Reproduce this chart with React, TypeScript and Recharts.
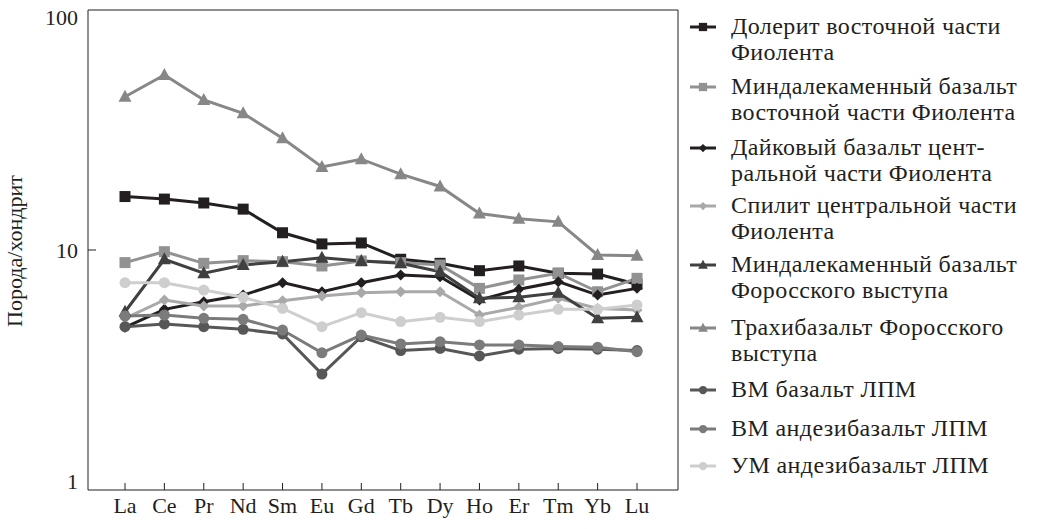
import React from 'react'
import { LineChart, Line, XAxis, YAxis } from 'recharts'

// REE elements on the x axis
const elements = ['La', 'Ce', 'Pr', 'Nd', 'Sm', 'Eu', 'Gd', 'Tb', 'Dy', 'Ho', 'Er', 'Tm', 'Yb', 'Lu']
const yTicks = [1, 10, 100]

// rock / chondrite ratios
const doleriteEast = [16.7, 16.3, 15.7, 14.8, 11.8, 10.6, 10.7, 9.15, 8.8, 8.2, 8.58, 8.0, 7.94, 7.2]
const amygBasaltEast = [8.86, 9.84, 8.8, 9.03, 8.94, 8.58, 9.0, 8.86, 8.66, 6.92, 7.5, 8.0, 6.7, 7.62]
const dikeBasalt = [4.76, 5.66, 6.09, 6.49, 7.31, 6.7, 7.31, 7.87, 7.74, 6.19, 6.86, 7.38, 6.49, 6.92]
const spilite = [5.19, 6.19, 5.84, 5.84, 6.15, 6.43, 6.64, 6.7, 6.7, 5.36, 5.77, 6.29, 5.71, 5.62]
const amygBasaltForos = [5.53, 9.15, 8.0, 8.66, 8.94, 9.29, 9.0, 8.8, 8.12, 6.29, 6.35, 6.64, 5.19, 5.24]
const trachybasalt = [43.5, 53.6, 42.2, 37.1, 29.2, 22.2, 23.9, 20.7, 18.4, 14.2, 13.5, 13.1, 9.53, 9.47]
const vmBasalt = [4.79, 4.92, 4.79, 4.67, 4.47, 3.04, 4.35, 3.81, 3.89, 3.62, 3.86, 3.89, 3.86, 3.81]
const vmAndesibasalt = [5.31, 5.36, 5.19, 5.14, 4.64, 3.73, 4.42, 4.06, 4.15, 4.02, 4.02, 3.96, 3.93, 3.77]
const umAndesibasalt = [7.31, 7.31, 6.81, 6.35, 5.71, 4.79, 5.48, 5.03, 5.24, 5.03, 5.36, 5.66, 5.66, 5.9]

type Shape = 'square' | 'diamond' | 'triangle' | 'circle'

const series: { key: string; lines: string[]; values: number[]; color: string; shape: Shape }[] = [
  { key: 's1', lines: ['Долерит восточной части', 'Фиолента'], values: doleriteEast, color: '#231f20', shape: 'square' },
  { key: 's2', lines: ['Миндалекаменный базальт', 'восточной части Фиолента'], values: amygBasaltEast, color: '#929292', shape: 'square' },
  { key: 's3', lines: ['Дайковый базальт цент-', 'ральной части Фиолента'], values: dikeBasalt, color: '#231f20', shape: 'diamond' },
  { key: 's4', lines: ['Спилит центральной части', 'Фиолента'], values: spilite, color: '#a9a9a9', shape: 'diamond' },
  { key: 's5', lines: ['Миндалекаменный базальт', 'Форосского выступа'], values: amygBasaltForos, color: '#404040', shape: 'triangle' },
  { key: 's6', lines: ['Трахибазальт Форосского', 'выступа'], values: trachybasalt, color: '#878787', shape: 'triangle' },
  { key: 's7', lines: ['ВМ базальт ЛПМ'], values: vmBasalt, color: '#575757', shape: 'circle' },
  { key: 's8', lines: ['ВМ андезибазальт ЛПМ'], values: vmAndesibasalt, color: '#7b7b7b', shape: 'circle' },
  { key: 's9', lines: ['УМ андезибазальт ЛПМ'], values: umAndesibasalt, color: '#cecece', shape: 'circle' },
]

const data = elements.map((el, i) => {
  const row: Record<string, string | number> = { el }
  series.forEach((s) => {
    row[s.key] = s.values[i]
  })
  return row
})

const FONT = "'Liberation Serif', Tinos, 'DejaVu Serif', serif"
const INK = '#231f20'
const PLOT_LEFT = 88
const PLOT_BOTTOM = 490
const legendTops = [13, 73, 134, 192, 251, 314, 376, 415, 452]

function marker(shape: Shape, cx: number, cy: number, color: string, k: number, key?: React.Key) {
  if (shape === 'square') {
    return <rect key={key} x={cx - 5.5 * k} y={cy - 5.5 * k} width={11 * k} height={11 * k} fill={color} />
  }
  if (shape === 'diamond') {
    const r = 5.5 * k
    return <polygon key={key} points={`${cx},${cy - r} ${cx + r},${cy} ${cx},${cy + r} ${cx - r},${cy}`} fill={color} />
  }
  if (shape === 'triangle') {
    return (
      <polygon
        key={key}
        points={`${cx},${cy - 7 * k} ${cx + 6.5 * k},${cy + 5 * k} ${cx - 6.5 * k},${cy + 5 * k}`}
        fill={color}
      />
    )
  }
  return <circle key={key} cx={cx} cy={cy} r={5.5 * k} fill={color} />
}

const XTick = (props: any) => {
  const { x, payload } = props
  return (
    <g>
      <line x1={x} x2={x} y1={PLOT_BOTTOM} y2={PLOT_BOTTOM - 7} stroke={INK} strokeWidth={1} />
      <text x={x} y={PLOT_BOTTOM + 23} textAnchor="middle" style={{ fontFamily: FONT }} fontSize={22} fill={INK}>
        {payload.value}
      </text>
    </g>
  )
}

const YTick = (props: any) => {
  const { y, payload } = props
  // end labels sit a little inside the frame, as in the source figure
  const dy = payload.value === 100 ? 15 : payload.value === 1 ? -1 : 8
  return (
    <g>
      {payload.value === 10 && <line x1={PLOT_LEFT} x2={PLOT_LEFT + 8} y1={y} y2={y} stroke={INK} strokeWidth={1} />}
      <text x={PLOT_LEFT - 10} y={y + dy} textAnchor="end" style={{ fontFamily: FONT }} fontSize={22} fill={INK}>
        {payload.value}
      </text>
    </g>
  )
}

function Legend() {
  return (
    <div style={{ position: 'absolute', left: 0, top: 0, fontFamily: FONT, fontSize: 24, letterSpacing: 0.4, color: INK }}>
      {series.map((s, i) => (
        <div key={s.key} style={{ position: 'absolute', left: 731, top: legendTops[i], lineHeight: '26px', whiteSpace: 'nowrap' }}>
          <svg width={40} height={14} style={{ position: 'absolute', left: -42, top: 7 }}>
            <line x1={1} x2={27} y1={7} y2={7} stroke={s.color} strokeWidth={3} />
            {marker(s.shape, 14, 7, s.color, 0.75)}
          </svg>
          {s.lines.map((l) => (
            <div key={l}>{l}</div>
          ))}
        </div>
      ))}
    </div>
  )
}

export default function App() {
  return (
    <div style={{ position: 'absolute', left: 0, top: 0, width: 1037, height: 529, background: '#fff' }}>
      <LineChart width={1037} height={529} data={data} margin={{ top: 9, right: 358, bottom: 0, left: 0 }}>
        <XAxis
          dataKey="el"
          height={39}
          padding={{ left: 37, right: 41 }}
          stroke={INK}
          tickLine={false}
          tick={<XTick />}
          interval={0}
        />
        {/* top and right edges of the frame */}
        <XAxis xAxisId="top" orientation="top" dataKey="el" height={1} stroke={INK} tick={false} tickLine={false} />
        <YAxis
          scale="log"
          domain={[1, 100]}
          ticks={yTicks}
          allowDataOverflow
          width={88}
          stroke={INK}
          tickLine={false}
          tick={<YTick />}
          label={() => (
            <text
              x={22}
              y={251}
              transform="rotate(-90 22 251)"
              textAnchor="middle"
              style={{ fontFamily: FONT }}
              fontSize={22}
              fill={INK}
            >
              Порода/хондрит
            </text>
          )}
        />
        <YAxis yAxisId="right" orientation="right" width={1} stroke={INK} tick={false} tickLine={false} />
        {series.map((s) => (
          <Line
            key={s.key}
            dataKey={s.key}
            stroke={s.color}
            strokeWidth={3}
            isAnimationActive={false}
            dot={(p: any) => marker(s.shape, p.cx, p.cy, s.color, 1, p.index)}
            activeDot={false}
          />
        ))}
      </LineChart>
      <Legend />
    </div>
  )
}
